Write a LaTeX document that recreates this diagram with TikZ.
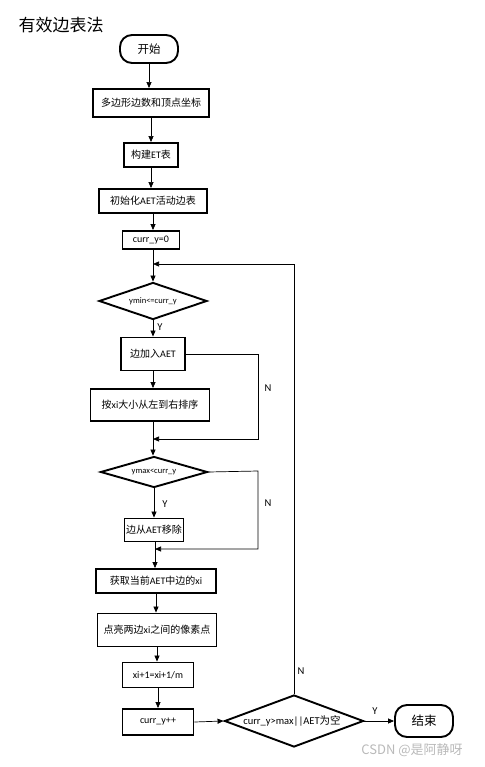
\documentclass[tikz,border=0pt]{standalone}
\usepackage{fontspec}
\setmainfont{Carlito}
\newfontfamily\cjk{Noto Sans CJK SC}
\usetikzlibrary{shapes.geometric,arrows.meta}
\newcommand{\zh}[1]{{\cjk #1}}
\begin{document}
\begin{tikzpicture}[x=1pt,y=-1pt,
  box/.style={draw, line width=1.9pt, inner sep=0pt, font=\fontsize{10}{11}\selectfont},
  term/.style={draw, line width=1.9pt, inner sep=0pt, rounded corners=12pt, font=\fontsize{11.5}{12}\selectfont},
  dia/.style={draw, diamond, line width=1.9pt, inner sep=0pt, aspect=2.5, font=\fontsize{8.5}{9}\selectfont},
  lbl/.style={font=\fontsize{10.5}{11}\selectfont, inner sep=0pt},
  conn/.style={line width=0.7pt, -{Triangle[length=6pt,width=5pt]}},
  line/.style={line width=0.7pt}]
\useasboundingbox (0,0) rectangle (484,767);

\node[font=\fontsize{17}{19}\selectfont\cjk, inner sep=0pt] (title) at (61,25) {有效边表法};

\node[term, minimum width=58pt, minimum height=28pt] (start) at (149,49) {\zh{开始}};
\node[box, minimum width=116pt, minimum height=28pt] (b1) at (151,103) {\zh{多边形边数和顶点坐标}};
\node[box, minimum width=54pt, minimum height=24pt] (b2) at (151,155) {\zh{构建}ET\zh{表}};
\node[box, minimum width=108pt, minimum height=24pt] (b3) at (153,201) {\zh{初始化}AET\zh{活动边表}};
\node[box, minimum width=57pt, minimum height=18pt] (b4) at (151,240) {curr\_y=0};
\node[dia, minimum width=108pt, minimum height=37pt] (d1) at (153,301) {\makebox[0pt]{ymin<=curr\_y}};
\node[box, minimum width=64pt, minimum height=33pt] (b5) at (153,354) {\zh{边加入}AET};
\node[box, minimum width=119pt, minimum height=32pt] (b6) at (150,405) {\zh{按}xi\zh{大小从左到右排序}};
\node[dia, minimum width=107pt, minimum height=31pt] (d2) at (154,472) {\makebox[0pt]{ymax<curr\_y}};
\node[box, minimum width=59pt, minimum height=23pt] (b7) at (154,530) {\zh{边从}AET\zh{移除}};
\node[box, minimum width=120pt, minimum height=24pt] (b8) at (156,581) {\zh{获取当前}AET\zh{中边的}xi};
\node[box, minimum width=119pt, minimum height=33pt] (b9) at (157,630) {\zh{点亮两边}xi\zh{之间的像素点}};
\node[box, minimum width=71pt, minimum height=25pt] (b10) at (158,675) {xi+1=xi+1/m};
\node[box, minimum width=71pt, minimum height=26pt] (b11) at (158,722) {curr\_y++};
\node[dia, minimum width=139pt, minimum height=52pt, font=\fontsize{10.5}{12}\selectfont] (d3) at (294,721) {\makebox[0pt]{\hspace*{-4pt}curr\_y>max||AET\zh{为空}}};
\node[term, minimum width=58pt, minimum height=32pt, font=\fontsize{12.5}{13}\selectfont] (end) at (424,721) {\zh{结束}};

\coordinate (m1) at (153,439);
\coordinate (m2) at (155,549);
\coordinate (lp) at (153,264);
\coordinate (r1) at (258,354);
\coordinate (r2) at (258,471);
\coordinate (top) at (294,264);

\draw[conn] (start.south) -- (start.south |- b1.north);
\draw[conn] (b1.south) -- (b1.south |- b2.north);
\draw[conn] (b2.south) -- (b2.south |- b3.north);
\draw[conn] (b3.south) -- (b3.south |- b4.north);
\draw[conn] (b4.south -| d1.north) -- (d1.north);
\draw[conn] (d1.south) -- (d1.south |- b5.north);
\draw[conn] (b5.south) -- (b5.south |- b6.north);
\draw[conn] (m1 |- b6.south) -- (m1 |- d2.north);
\draw[conn] (r1 -| b5.east) -- (r1) -- (r1 |- m1) -- (m1);
\draw[conn] (d2.south) -- (d2.south |- b7.north);
\draw[conn] (m2 |- b7.south) -- (m2 |- b8.north);
\draw[conn] (d2.east) -- (r2) -- (r2 |- m2) -- (m2);
\draw[conn] (b8.south) -- (b8.south |- b9.north);
\draw[conn] (b9.south) -- (b9.south |- b10.north);
\draw[conn] (b10.south) -- (b10.south |- b11.north);
\draw[conn] (b11.east) -- (d3.west);
\draw[conn] (d3.east) -- (end.west);
\draw[conn] (d3.north) -- (top) -- (lp);

\node[lbl] (y1) at (160,327) {Y};
\node[lbl] (y2) at (165,504) {Y};
\node[lbl] (n1) at (268,388) {N};
\node[lbl] (n2) at (268,503) {N};
\node[lbl] (n3) at (301,671) {N};
\node[lbl] (y3) at (375,711) {Y};

\node[font=\fontsize{13}{14}\selectfont\cjk, text=gray!55, inner sep=0pt] (wm) at (412,750) {CSDN @是阿静呀};
\end{tikzpicture}
\end{document}
